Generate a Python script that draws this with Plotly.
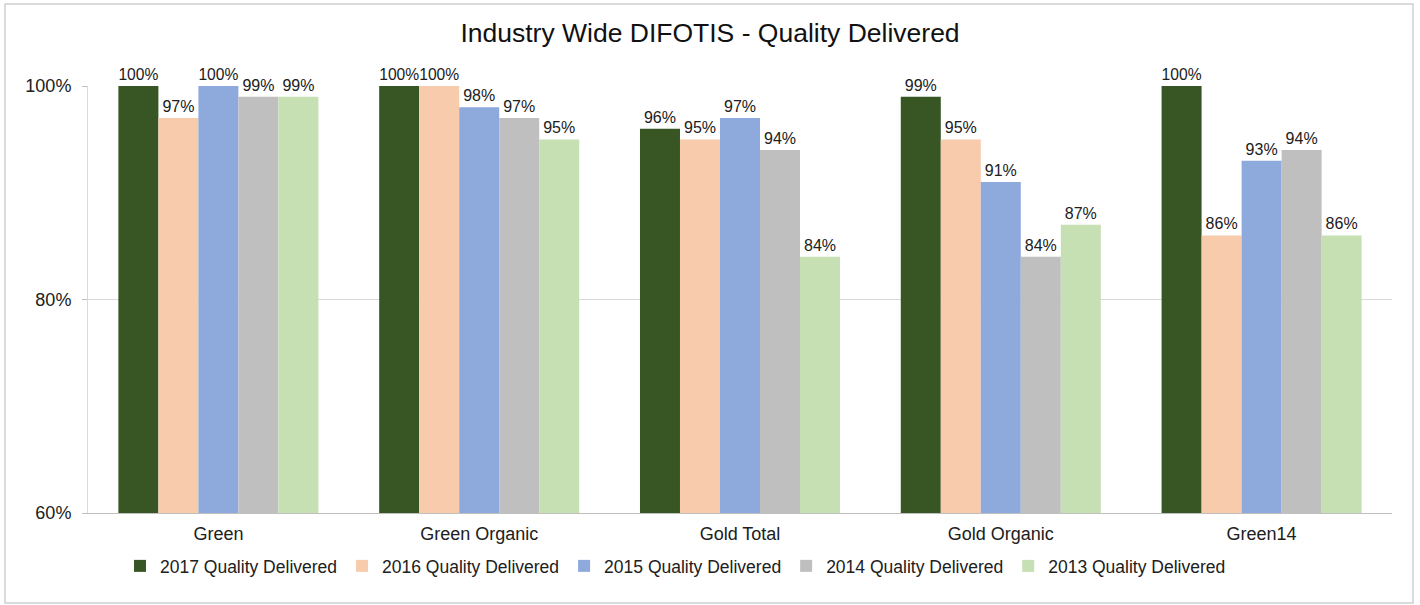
import plotly.graph_objects as go

categories = ["Green", "Green Organic", "Gold Total", "Gold Organic", "Green14"]
series_names = ["2017 Quality Delivered", "2016 Quality Delivered", "2015 Quality Delivered",
                "2014 Quality Delivered", "2013 Quality Delivered"]
v2017 = [1.00, 1.00, 0.96, 0.99, 1.00]
v2016 = [0.97, 1.00, 0.95, 0.95, 0.86]
v2015 = [1.00, 0.98, 0.97, 0.91, 0.93]
v2014 = [0.99, 0.97, 0.94, 0.84, 0.94]
v2013 = [0.99, 0.95, 0.84, 0.87, 0.86]
colors = ["#375623", "#F8CBAD", "#8EA9DB", "#BFBFBF", "#C6E0B4"]

FONT = "Liberation Sans, Arial, sans-serif"
fig = go.Figure()
for name, vals, col in zip(series_names, [v2017, v2016, v2015, v2014, v2013], colors):
    fig.add_trace(go.Bar(
        x=categories, y=vals, name=name, marker=dict(color=col, line=dict(width=0)),
        text=[f"{v*100:.0f}%" for v in vals], textposition="outside",
        textfont=dict(size=16, color="#202020", family=FONT),
        cliponaxis=False,
    ))

W, H = 1420, 605
L, R, T, B = 88, 28, 86, 92
pw, ph = W - L - R, H - T - B
def px(x): return (x - L) / pw
def py(y): return (H - B - y) / ph

fig.update_layout(
    width=W, height=H,
    margin=dict(l=L, r=R, t=T, b=B),
    paper_bgcolor="white", plot_bgcolor="white",
    barmode="group", bargap=0.233, bargroupgap=0,
    font=dict(family=FONT, size=18, color="#202020"),
    title=dict(text="Industry Wide DIFOTIS - Quality Delivered", x=0.5, xanchor="center",
               y=1 - 33 / H, yanchor="middle", font=dict(size=26.5, color="#111111", family=FONT)),
    legend=dict(orientation="h", x=px(120), xanchor="left", y=py(566), yanchor="middle",
                bgcolor="rgba(0,0,0,0)",
                font=dict(size=17.5, color="#202020"), itemwidth=30, traceorder="normal"),
    xaxis=dict(showline=True, linecolor="#BFBFBF", linewidth=1, ticks="", showgrid=False,
               ticklabelstandoff=4, tickfont=dict(size=18, color="#202020")),
    yaxis=dict(range=[0.6, 1.0], tickvals=[0.6, 0.8, 1.0], tickformat=".0%",
               showgrid=True, gridcolor="#D9D9D9", gridwidth=1, zeroline=False,
               showline=True, linecolor="#D9D9D9", ticks="outside", ticklen=5,
               tickcolor="#BFBFBF", ticklabelstandoff=7, tickfont=dict(size=18, color="#202020")),
    shapes=[dict(type="rect", xref="paper", yref="paper",
                 x0=px(5), x1=px(1413), y0=py(603), y1=py(4),
                 line=dict(color="#D0D0D0", width=1.5), fillcolor="rgba(0,0,0,0)", layer="below")],
)
fig.write_html("out.html", config={"displayModeBar": False},
               post_script="document.body.style.margin='0';")
